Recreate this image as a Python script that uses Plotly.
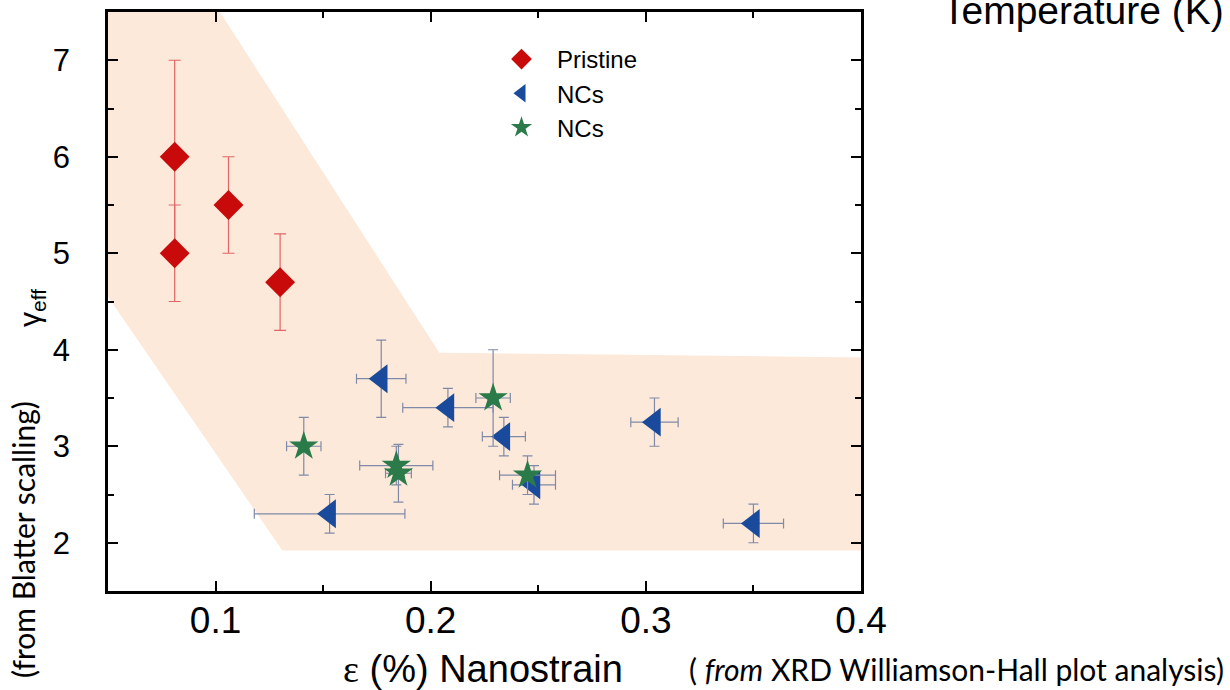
import plotly.graph_objects as go

# ---------------- data ----------------
pristine_x = [0.081, 0.081, 0.106, 0.130]
pristine_y = [6.0, 5.0, 5.5, 4.7]
pristine_yerr = [1.0, 0.5, 0.5, 0.5]

ncs_tri_x = [0.177, 0.208, 0.234, 0.248, 0.304, 0.350, 0.153]
ncs_tri_y = [3.70, 3.40, 3.10, 2.60, 3.25, 2.20, 2.30]
ncs_tri_xerr = [0.0115, 0.021, 0.010, 0.010, 0.011, 0.014, 0.035]
ncs_tri_yerr = [0.40, 0.20, 0.20, 0.20, 0.25, 0.20, 0.20]

ncs_star_x = [0.141, 0.184, 0.185, 0.229, 0.245]
ncs_star_y = [3.00, 2.80, 2.72, 3.50, 2.70]
ncs_star_xerr = [0.008, 0.017, 0.006, 0.008, 0.013]
ncs_star_yerr = [0.30, 0.20, 0.30, 0.50, 0.20]

# shaded guide band (data coordinates)
band_x = [0.05, 0.102, 0.204, 0.40, 0.40, 0.131, 0.05]
band_y = [7.5, 7.5, 3.97, 3.92, 1.92, 1.92, 4.55]

x_ticks = [0.1, 0.2, 0.3, 0.4]
x_ticklabels = ["0.1", "0.2", "0.3", "0.4"]
y_ticks = [2, 3, 4, 5, 6, 7]

# ---------------- styles ----------------
RED = "#c80a0a"
RED_ERR = "#e06666"
BLUE = "#1a4a9c"
GREEN = "#2a7a4a"
GREY_ERR = "#7f8aa8"
BAND = "#fde9da"

fig = go.Figure()

fig.add_trace(go.Scatter(
    x=band_x, y=band_y, mode="lines", fill="toself", fillcolor=BAND,
    line=dict(width=0, color=BAND), showlegend=False, hoverinfo="skip"))

fig.add_trace(go.Scatter(
    x=pristine_x, y=pristine_y, mode="markers", showlegend=False,
    marker=dict(symbol="diamond", size=23, color=RED),
    error_y=dict(type="data", array=pristine_yerr, color=RED_ERR, thickness=1.2, width=6)))

fig.add_trace(go.Scatter(
    x=ncs_tri_x, y=ncs_tri_y, mode="markers", showlegend=False,
    marker=dict(symbol="triangle-left", size=25, color=BLUE),
    error_x=dict(type="data", array=ncs_tri_xerr, color=GREY_ERR, thickness=1.2, width=5),
    error_y=dict(type="data", array=ncs_tri_yerr, color=GREY_ERR, thickness=1.2, width=5)))

fig.add_trace(go.Scatter(
    x=ncs_star_x, y=ncs_star_y, mode="markers", showlegend=False,
    marker=dict(symbol="star", size=22, color=GREEN),
    error_x=dict(type="data", array=ncs_star_xerr, color=GREY_ERR, thickness=1.2, width=5),
    error_y=dict(type="data", array=ncs_star_yerr, color=GREY_ERR, thickness=1.2, width=5)))

# legend entries
for name, sym, col in [("Pristine", "diamond", RED), ("NCs", "triangle-left", BLUE), ("NCs", "star", GREEN)]:
    fig.add_trace(go.Scatter(x=[None], y=[None], mode="markers", name=name,
                             marker=dict(symbol=sym, size=16, color=col)))

PL, PR, PT, PB = 108, 369, 12, 99
W, H = 1230, 690
pw, ph = W - PL - PR, H - PT - PB


def px(x):
    return (x - PL) / pw


def py(y):
    return (H - PB - y) / ph


fig.update_layout(
    width=W, height=H,
    margin=dict(l=PL, r=PR, t=PT, b=PB, autoexpand=False),
    paper_bgcolor="white", plot_bgcolor="white",
    font=dict(family="Liberation Sans, Arial, sans-serif", color="black"),
    legend=dict(x=px(486), y=py(37), xanchor="left", yanchor="top",
                font=dict(size=24, family="Liberation Sans, Arial, sans-serif"),
                bgcolor="rgba(0,0,0,0)", itemwidth=61, tracegroupgap=0),
    showlegend=True,
)

fig.update_xaxes(
    range=[0.05, 0.4], showgrid=False, zeroline=False, automargin=False,
    showline=True, linecolor="black", linewidth=2.5, mirror="allticks",
    ticks="inside", ticklen=10, tickwidth=2, tickcolor="black",
    tickvals=x_ticks, ticktext=x_ticklabels,
    tickfont=dict(size=37, family="Liberation Sans, Arial, sans-serif"),
    ticklabelstandoff=-5,
    minor=dict(ticks="inside", ticklen=6, tickwidth=2, tickcolor="black", dtick=0.05, tick0=0.05, showgrid=False),
)
fig.update_yaxes(
    range=[1.5, 7.5], showgrid=False, zeroline=False, automargin=False,
    showline=True, linecolor="black", linewidth=2.5, mirror="allticks",
    ticks="inside", ticklen=10, tickwidth=2, tickcolor="black",
    tickvals=y_ticks,
    tickfont=dict(size=31, family="Liberation Sans, Arial, sans-serif"),
    ticklabelstandoff=29,
    minor=dict(ticks="inside", ticklen=6, tickwidth=2, tickcolor="black", dtick=0.5, tick0=1.5, showgrid=False),
)

annos = [
    dict(text="γ<sub>eff</sub>", x=px(31), y=py(308), textangle=-90, xanchor="center",
         font=dict(size=30, family="Liberation Sans, Arial, sans-serif")),
    dict(text="(from Blatter scalling)", x=px(23), y=py(540), textangle=-90, xanchor="center",
         font=dict(size=30, family="Lato, Open Sans, sans-serif")),
    dict(text="<span style='font-family:Liberation Serif, serif'>ε</span> (%) Nanostrain",
         x=px(483), y=py(669), xanchor="center",
         font=dict(size=38, family="Liberation Sans, Arial, sans-serif")),
    dict(text="( <i>from</i> XRD Williamson-Hall plot analysis)", x=px(1226), y=py(669), xanchor="right",
         font=dict(size=30, family="Lato, Open Sans, sans-serif")),
    dict(text="Temperature (K)", x=px(1226), y=py(11), xanchor="right",
         font=dict(size=39, family="Liberation Sans, Arial, sans-serif")),
]
for a in annos:
    a.update(xref="paper", yref="paper", showarrow=False, yanchor="middle")
    fig.add_annotation(**a)

fig.write_html("out.html", config={"displayModeBar": False},
               post_script="document.body.style.margin='0';")
